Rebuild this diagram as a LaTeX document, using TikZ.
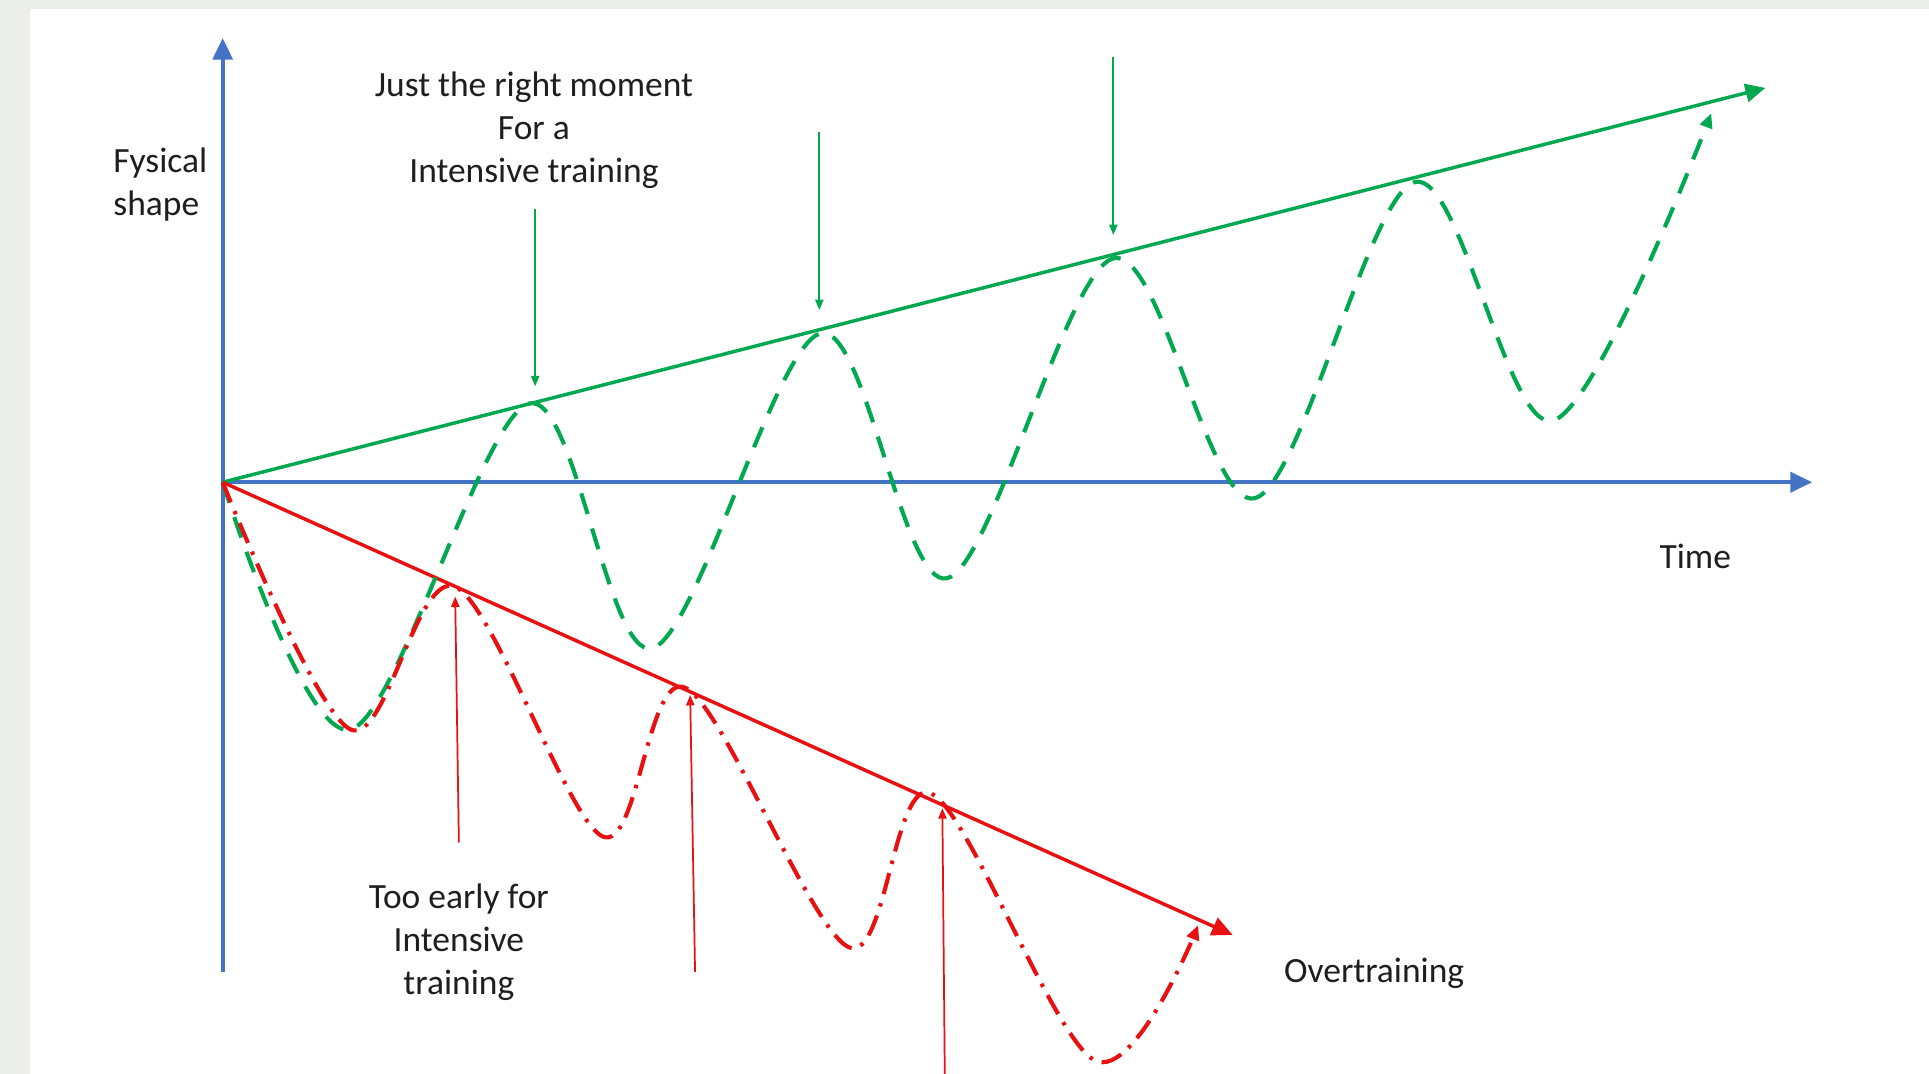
\documentclass[tikz,border=0pt]{standalone}
\usepackage{fontspec}
\setmainfont{Carlito}
\usetikzlibrary{arrows.meta, positioning}

\definecolor{axisblue}{RGB}{68,114,196}
\definecolor{goodgreen}{RGB}{0,168,80}
\definecolor{badred}{RGB}{232,16,16}
\definecolor{framegray}{RGB}{236,238,236}
\definecolor{txtgray}{RGB}{30,30,30}

\begin{document}
\begin{tikzpicture}[x=0.01cm, y=0.01cm, font=\fontsize{8.2}{10}\selectfont]
  \tikzset{
    axis/.style={
      draw=axisblue,
      line width=0.9pt,
      -{Triangle[length=5pt,width=4.6pt]}},
    trend/.style={
      line width=0.8pt,
      -{Triangle[length=4.8pt,width=4.3pt]}},
    wave/.style={
      draw=goodgreen,
      line width=0.95pt,
      dash pattern=on 5pt off 3.5pt,
      -{Triangle[length=3.4pt,width=2.9pt]}},
    overwave/.style={
      draw=badred,
      line width=0.95pt,
      dash pattern=on 5pt off 2.2pt on 0.8pt off 2.2pt,
      -{Triangle[length=3.4pt,width=2.9pt]}},
    hint/.style={
      line width=0.4pt,
      -{Triangle[length=2.4pt,width=1.9pt]}},
    lbl/.style={
      text=txtgray,
      inner sep=1pt,
      align=center}}

  % frame
  \fill[framegray] (0,0) rectangle (1568,873);
  \fill[white] (24.5,0) rectangle (1568,865.5);
  \useasboundingbox (0,0) rectangle (1568,873);

  \coordinate (O) at (181,481);
  \coordinate (ybot) at (181,83);
  \coordinate (ytop) at (181,842);
  \coordinate (xend) at (1473,481);
  \coordinate (gend) at (1435,801.5);
  \coordinate (rend) at (1002,113);

  % axes and trends
  \draw[axis] (ybot) -- (ytop);
  \draw[axis] (O) -- (xend);
  \draw[trend, draw=goodgreen, -{Triangle[length=4.6pt,width=4.2pt]}] (O) -- (gend);
  \draw[trend, draw=badred] (O) -- (rend);

  % fitness waves
  \draw[wave] plot[smooth, tension=0.55] coordinates {(181,481) (285,280)
    (430,545) (530,346) (667,602) (770,403) (905,663) (1020,468)
    (1150,725) (1262,531) (1391,781)};
  \draw[overwave] plot[smooth, tension=0.55] coordinates {(181,481) (285,280)
    (370,396) (490,193) (557,314) (690,103) (757,228) (890,11) (974,121)};

  % labels
  \node[lbl, align=left, anchor=west] (fys) at (88,723) {Fysical\\shape};
  \node[lbl] (just) at (434,767) {Just the right moment\\For a\\Intensive training};
  \node[lbl] (early) at (373,107) {Too early for\\Intensive\\training};
  \node[lbl] (time) at (1378,421) {Time};
  \node[lbl] (over) at (1117,82) {Overtraining};

  % good moments
  \coordinate (g1a) at (435,703);
  \coordinate (g1b) at (435,559);
  \coordinate (g2a) at (666,766);
  \coordinate (g2b) at (666,621);
  \coordinate (g3a) at (905,827);
  \coordinate (g3b) at (905,682);
  \draw[hint, draw=goodgreen] (g1a) -- (g1b);
  \draw[hint, draw=goodgreen] (g2a) -- (g2b);
  \draw[hint, draw=goodgreen] (g3a) -- (g3b);

  % too early
  \coordinate (r1a) at (373,188);
  \coordinate (r1b) at (370,388);
  \coordinate (r2a) at (565,83);
  \coordinate (r2b) at (561,308);
  \coordinate (r3a) at (768,-2);
  \coordinate (r3b) at (766,216);
  \draw[hint, draw=badred] (r1a) -- (r1b);
  \draw[hint, draw=badred] (r2a) -- (r2b);
  \draw[hint, draw=badred] (r3a) -- (r3b);

\end{tikzpicture}
\end{document}
